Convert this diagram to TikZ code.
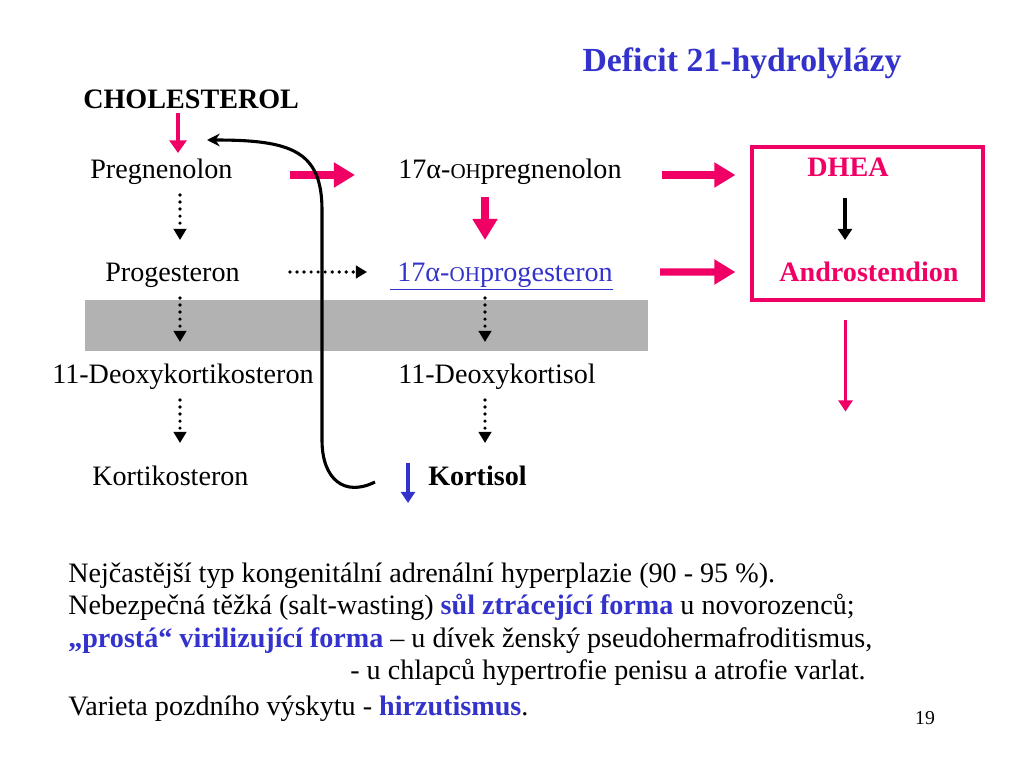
\documentclass[tikz,border=0pt]{standalone}
\usepackage{fontspec}
\setmainfont{Liberation Serif}
\usetikzlibrary{arrows.meta,positioning,calc}
\definecolor{hotpink}{RGB}{240,0,100}
\definecolor{slideblue}{RGB}{51,51,204}
\definecolor{bandgrey}{RGB}{178,178,178}
\newcommand{\OHsmall}{{\fontsize{15}{15}\selectfont OH}}

\begin{document}
\begin{tikzpicture}[x=0.025cm,y=-0.025cm,
  lbl/.style={inner sep=0pt,font=\fontsize{20}{24}\selectfont},
  hot/.style={inner sep=0pt,font=\fontsize{20}{24}\selectfont\bfseries,text=hotpink},
  para/.style={inner sep=0pt,anchor=base west,font=\fontsize{20}{24}\selectfont},
  fat/.style={draw=hotpink,line width=5.3pt,-{Triangle[length=15pt,width=17pt]}},
  mid/.style={draw=hotpink,line width=3.5pt,-{Triangle[length=9pt,width=12pt]}},
  thin/.style={line width=2.2pt,-{Triangle[length=8pt,width=10pt]}},
  dots/.style={line width=2.6pt,line cap=round,dash pattern=on 0pt off 5pt,-{Triangle[length=8pt,width=9pt]}},
  loop/.style={line width=2.2pt,-{Stealth[length=9pt,width=9pt]}}]
\useasboundingbox (0,0) rectangle (1024,768);
\fill[bandgrey] (85,300) rectangle (648,351);

% title
\node[inner sep=0pt,anchor=base,font=\fontsize{24}{28}\selectfont\bfseries,text=slideblue] (title) at (742,72) {Deficit 21-hydrolylázy};

% pathway
\node[lbl,anchor=base west,font=\fontsize{20}{24}\selectfont\bfseries] (chol) at (83,109) {CHOLESTEROL};
\node[lbl,anchor=base west] (preg) at (90,179) {Pregnenolon};
\node[lbl,anchor=base west] (ohpreg) at (398,179) {17α-\OHsmall pregnenolon};
\node[lbl,anchor=base west] (prog) at (105,281) {Progesteron};
\node[lbl,anchor=base west,text=slideblue] (ohprog) at (390,281) {\underline{\ 17α-\OHsmall progesteron}};
\node[lbl,anchor=base west] (deoxyk) at (52,383) {11-Deoxykortikosteron};
\node[lbl,anchor=base west] (deoxyc) at (398,383) {11-Deoxykortisol};
\node[lbl,anchor=base west] (kortik) at (92,485) {Kortikosteron};
\node[lbl,anchor=base west,font=\fontsize{20}{24}\selectfont\bfseries] (kortisol) at (428,485) {Kortisol};

% androgens
\node[draw=hotpink,line width=2.2pt,minimum width=5.775cm,minimum height=3.825cm] (box) at (867.5,223.5) {};
\node[hot,anchor=base] (dhea) at (848,177) {DHEA};
\node[hot,anchor=base] (andro) at (869,281) {Androstendion};

% arrows
\draw[mid] ($(chol.base west)+(95,4)$) -- ($(preg.base west)+(88,-26)$);
\draw[fat] ($(preg.base west)+(200,-4)$) -- ($(ohpreg.base west)+(-43,-4)$);
\draw[fat] ($(ohpreg.base east)+(40,-4)$) -- ($(box.west)+(-15,-48.5)$);
\draw[fat] ($(ohpreg.base west)+(87,18)$) -- ($(ohprog.base west)+(95,-41)$);
\draw[fat] ($(ohprog.base east)+(47,-9)$) -- ($(box.west)+(-15,48.5)$);
\draw[dots] ($(preg.base west)+(90,16)$) -- ($(prog.base west)+(75,-41)$);
\draw[dots] ($(prog.base west)+(75,17)$) -- ($(deoxyk.base west)+(128,-41)$);
\draw[dots] ($(deoxyk.base west)+(128,17)$) -- ($(kortik.base west)+(88,-42)$);
\draw[dots] ($(ohprog.base west)+(95,17)$) -- ($(deoxyc.base west)+(87,-41)$);
\draw[dots] ($(deoxyc.base west)+(87,17)$) -- ($(kortisol.base west)+(57,-42)$);
\draw[dots] ($(prog.base west)+(185,-9)$) -- ($(ohprog.base west)+(-23,-9)$);
\draw[thin] ($(dhea.base)+(-3,21)$) -- ($(andro.base)+(-24,-41)$);
\draw[thin,draw=hotpink,fill=hotpink] ($(box.south)+(-22,18)$) -- ($(box.south)+(-22,110)$);
\draw[thin,draw=slideblue,fill=slideblue] ($(kortisol.base west)+(-20,-22)$) -- ($(kortisol.base west)+(-20,18)$);
\draw[loop] ($(kortisol.base west)+(-53,-3)$) .. controls (345,497) and (322,480) .. (322,440)
  -- (322,210) .. controls (322,150) and (290,140) .. ($(preg.base west)+(117,-39)$);

% notes
\node[para] (n1) at (68,582) {Nejčastější typ kongenitální adrenální hyperplazie (90 - 95 \%).};
\node[para] (n2) at (68,614) {Nebezpečná těžká (salt-wasting) \textbf{\textcolor{slideblue}{sůl ztrácející forma}} u novorozenců;};
\node[para] (n3) at (68,647) {\textbf{\textcolor{slideblue}{„prostá“ virilizující forma}} – u dívek ženský pseudohermafroditismus,};
\node[para] (n4) at (350,679) {- u chlapců hypertrofie penisu a atrofie varlat.};
\node[para] (n5) at (68,715) {Varieta pozdního výskytu - \textbf{\textcolor{slideblue}{hirzutismus}}.};
\node[inner sep=0pt,anchor=base,font=\fontsize{14}{16}\selectfont] (pg) at (925,724) {19};
\end{tikzpicture}
\end{document}
